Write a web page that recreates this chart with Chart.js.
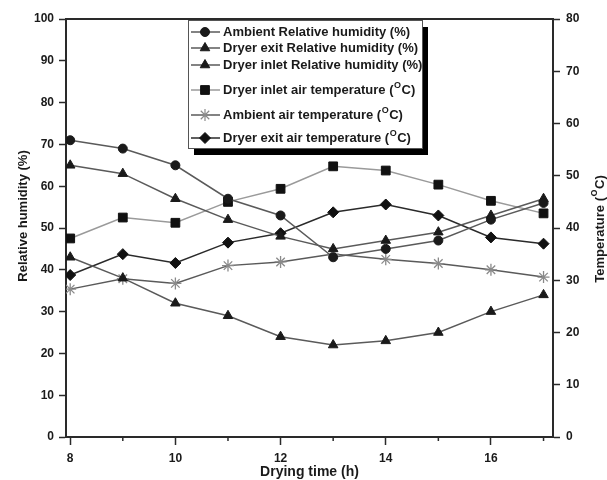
<!DOCTYPE html>
<html>
<head>
<meta charset="utf-8">
<script src="https://cdn.jsdelivr.net/npm/chart.js@4.4.0/dist/chart.umd.min.js"></script>
<style>
  html, body { margin: 0; padding: 0; background: #fff; }
  #wrap { width: 607px; height: 480px; }
</style>
</head>
<body>
<div id="wrap"><canvas id="chart" width="607" height="480"></canvas></div>
<script>
// drying time (h)
const hours = [8, 9, 10, 11, 12, 13, 14, 15, 16, 17];
const xTicks = [8, 9, 10, 11, 12, 13, 14, 15, 16, 17];
const rhTicks = [0, 10, 20, 30, 40, 50, 60, 70, 80, 90, 100];
const tempTicks = [0, 10, 20, 30, 40, 50, 60, 70, 80];

// relative humidity (%)
const ambientRH = [71, 69, 65, 57, 53, 43, 45, 47, 52, 56];
const exitRH = [43, 38, 32, 29, 24, 22, 23, 25, 30, 34];
const inletRH = [65, 63, 57, 52, 48, 45, 47, 49, 53, 57];

// temperature (°C)
const inletTemp = [38, 42, 41, 45, 47.5, 51.8, 51, 48.3, 45.2, 42.8];
const ambientTemp = [28.3, 30.3, 29.4, 32.8, 33.5, 35, 34, 33.2, 32, 30.6];
const exitTemp = [31, 35, 33.3, 37.2, 39, 43, 44.5, 42.4, 38.2, 37];

const seriesNames = [
  'Ambient Relative humidity (%)',
  'Dryer exit Relative humidity (%)',
  'Dryer inlet Relative humidity (%)',
  'Dryer inlet air temperature (°C)',
  'Ambient air temperature (°C)',
  'Dryer exit air temperature (°C)'
];

const FONT = '"Liberation Sans", Arial, sans-serif';
const axisColor = '#2a2a2a';
const textColor = '#1a1a1a';

function pts(arr) {
  return hours.map((h, i) => ({ x: h, y: arr[i] }));
}

// text with the degree sign drawn as a raised small "O", like the original
function richWidth(ctx, text, size) {
  const parts = text.split('°');
  let w = 0;
  parts.forEach((p, i) => {
    if (i > 0) {
      ctx.font = `bold ${Math.round(size * 0.68)}px ${FONT}`;
      w += ctx.measureText('O').width + 1;
    }
    ctx.font = `bold ${size}px ${FONT}`;
    w += ctx.measureText(p).width;
  });
  return w;
}

function drawRich(ctx, text, x, y, size) {
  const parts = text.split('°');
  let cx = x;
  ctx.textAlign = 'left';
  ctx.textBaseline = 'middle';
  parts.forEach((p, i) => {
    if (i > 0) {
      ctx.font = `bold ${Math.round(size * 0.68)}px ${FONT}`;
      ctx.fillText('O', cx + 0.5, y - size * 0.42);
      cx += ctx.measureText('O').width + 1;
    }
    ctx.font = `bold ${size}px ${FONT}`;
    ctx.fillText(p, cx, y);
    cx += ctx.measureText(p).width;
  });
}

function drawVertical(ctx, text, cx, cy, size) {
  const w = richWidth(ctx, text, size);
  ctx.save();
  ctx.translate(cx, cy);
  ctx.rotate(-Math.PI / 2);
  drawRich(ctx, text, -w / 2, 0, size);
  ctx.restore();
}

const extras = {
  id: 'extras',
  afterDraw(chart) {
    const { ctx, chartArea: a, scales } = chart;
    ctx.save();

    // top frame line
    ctx.strokeStyle = axisColor;
    ctx.lineWidth = 2;
    ctx.beginPath();
    ctx.moveTo(a.left - 1, a.top);
    ctx.lineTo(a.right + 1, a.top);
    ctx.stroke();

    // short minor ticks on x axis (odd hours)
    ctx.lineWidth = 1.5;
    scales.x.ticks.forEach(t => {
      if (t.value % 2) {
        const px = scales.x.getPixelForValue(t.value);
        ctx.beginPath();
        ctx.moveTo(px, a.bottom);
        ctx.lineTo(px, a.bottom + 4);
        ctx.stroke();
      }
    });

    // axis titles, both reading bottom to top
    ctx.fillStyle = textColor;
    drawVertical(ctx, 'Relative humidity (%)', 23, 216, 13);
    drawVertical(ctx, 'Temperature (°C)', 600, 229, 13);

    // legend box with shadow
    const bx = 188, by = 20, bw = 234, bh = 128;
    ctx.fillStyle = '#000';
    ctx.fillRect(bx + 6, by + 7, bw, bh);
    ctx.fillStyle = '#fff';
    ctx.fillRect(bx, by, bw, bh);
    ctx.strokeStyle = '#555';
    ctx.lineWidth = 1;
    ctx.strokeRect(bx + 0.5, by + 0.5, bw, bh);

    const rowY = [12, 28, 45, 70, 95, 118];
    chart.data.datasets.forEach((ds, i) => {
      const y = by + rowY[i];
      ctx.strokeStyle = ds.borderColor;
      ctx.lineWidth = 1.5;
      ctx.beginPath();
      ctx.moveTo(bx + 3, y);
      ctx.lineTo(bx + 32, y);
      ctx.stroke();
      ctx.fillStyle = ds.pointBackgroundColor;
      ctx.strokeStyle = ds.pointBorderColor;
      ctx.lineWidth = ds.pointStyle === 'star' ? 1.2 : 1;
      Chart.helpers.drawPoint(ctx, {
        pointStyle: ds.pointStyle,
        radius: ds.pointRadius,
        rotation: 0,
        borderWidth: 1
      }, bx + 17, y);
      ctx.fillStyle = textColor;
      drawRich(ctx, ds.label, bx + 35, y + 0.5, 13);
    });

    ctx.restore();
  }
};

const datasets = [
  { label: seriesNames[0], data: pts(ambientRH), yAxisID: 'y', borderColor: '#5a5a5a',
    pointStyle: 'circle', pointRadius: 4.5, pointBackgroundColor: '#1a1a1a', pointBorderColor: '#1a1a1a' },
  { label: seriesNames[1], data: pts(exitRH), yAxisID: 'y', borderColor: '#5a5a5a',
    pointStyle: 'triangle', pointRadius: 5.5, pointBackgroundColor: '#1a1a1a', pointBorderColor: '#1a1a1a' },
  { label: seriesNames[2], data: pts(inletRH), yAxisID: 'y', borderColor: '#5a5a5a',
    pointStyle: 'triangle', pointRadius: 5.5, pointBackgroundColor: '#1a1a1a', pointBorderColor: '#1a1a1a' },
  { label: seriesNames[3], data: pts(inletTemp), yAxisID: 'y1', borderColor: '#9a9a9a',
    pointStyle: 'rect', pointRadius: 6.2, pointBackgroundColor: '#111', pointBorderColor: '#111' },
  { label: seriesNames[4], data: pts(ambientTemp), yAxisID: 'y1', borderColor: '#5a5a5a',
    pointStyle: 'star', pointRadius: 6, pointBackgroundColor: '#888', pointBorderColor: '#8a8a8a' },
  { label: seriesNames[5], data: pts(exitTemp), yAxisID: 'y1', borderColor: '#2a2a2a',
    pointStyle: 'rectRot', pointRadius: 5.5, pointBackgroundColor: '#111', pointBorderColor: '#111' }
];
datasets.forEach(d => {
  d.borderWidth = 1.5;
  d.pointBorderWidth = d.pointStyle === 'star' ? 1.3 : 1;
  d.tension = 0;
});

const tickFont = { family: FONT, size: 12, weight: 'bold' };
const titleFont = { family: FONT, size: 14, weight: 'bold' };

new Chart(document.getElementById('chart'), {
  type: 'line',
  data: { datasets },
  options: {
    responsive: false,
    devicePixelRatio: 1,
    animation: false,
    layout: { padding: { top: 19, left: 0, right: 0, bottom: 0 } },
    plugins: { legend: { display: false }, tooltip: { enabled: false } },
    scales: {
      x: {
        type: 'linear',
        min: 7.92,
        max: 17.18,
        afterBuildTicks: s => { s.ticks = xTicks.map(v => ({ value: v })); },
        afterFit: s => { s.height = 43; },
        ticks: {
          color: textColor, font: tickFont, padding: 6, maxRotation: 0,
          callback: v => (v % 2 ? '' : v)
        },
        grid: {
          drawOnChartArea: false, tickLength: 8, tickWidth: 1.5,
          tickColor: c => (c.tick && c.tick.value % 2 ? 'rgba(0,0,0,0)' : axisColor)
        },
        border: { color: axisColor, width: 2 },
        title: { display: true, text: 'Drying time (h)', color: textColor, font: titleFont, padding: { top: 0, bottom: -1 } }
      },
      y: {
        position: 'left',
        min: 0,
        max: 100,
        afterBuildTicks: s => { s.ticks = rhTicks.map(v => ({ value: v })); },
        afterFit: s => { s.width = 66; },
        ticks: { color: textColor, font: tickFont, padding: 5 },
        grid: { drawOnChartArea: false, tickLength: 7, tickWidth: 1.5, tickColor: axisColor },
        border: { color: axisColor, width: 2 }
      },
      y1: {
        position: 'right',
        min: 0,
        max: 80,
        afterBuildTicks: s => { s.ticks = tempTicks.map(v => ({ value: v })); },
        afterFit: s => { s.width = 54; },
        ticks: { color: textColor, font: tickFont, padding: 6 },
        grid: { drawOnChartArea: false, tickLength: 7, tickWidth: 1.5, tickColor: axisColor },
        border: { color: axisColor, width: 2 }
      }
    }
  },
  plugins: [extras]
});
</script>
</body>
</html>
